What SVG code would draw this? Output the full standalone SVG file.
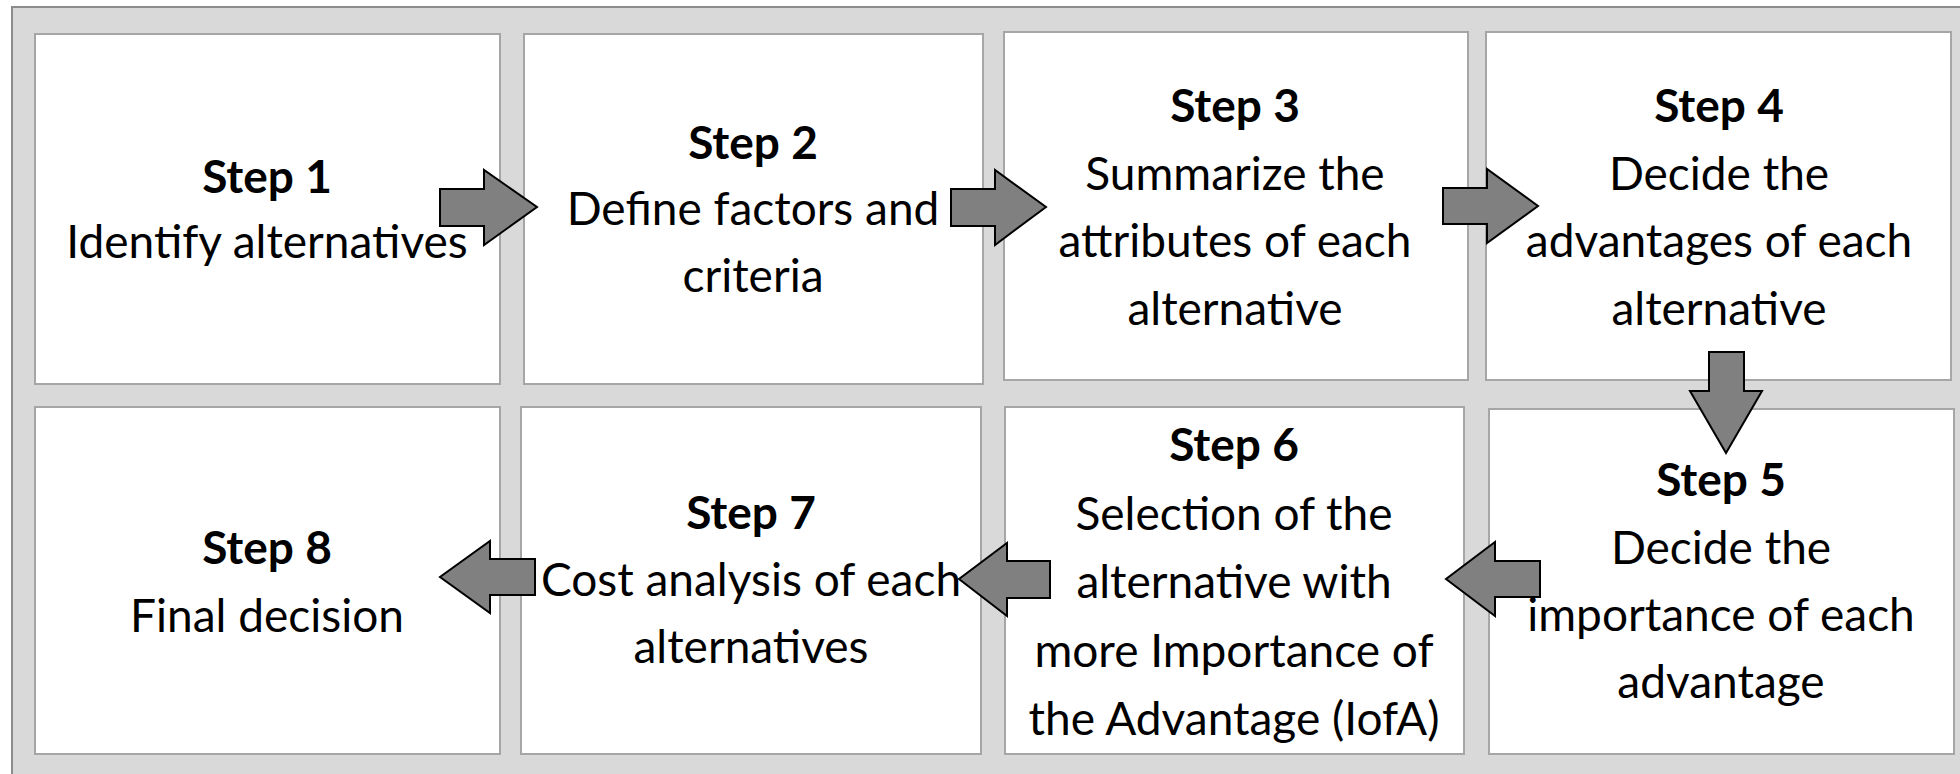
<svg xmlns="http://www.w3.org/2000/svg" width="1960" height="774" viewBox="0 0 1960 774">
<style>
.box{fill:#ffffff;stroke:#a6a6a6;stroke-width:2}
.t{font-family:Lato,"Open Sans","Liberation Sans",sans-serif;font-size:46px;fill:#000;text-anchor:middle}
.b{font-weight:bold}
.arr{fill:#808080;stroke:#000;stroke-width:2;stroke-linejoin:miter}
</style>
<rect x="12" y="7" width="1960" height="790" fill="#d9d9d9" stroke="#8c8c8c" stroke-width="2"/>
<g id="step1"><rect class="box" x="35" y="34" width="465" height="350"/>
<text class="t b" x="267" y="193">Step 1</text>
<text class="t" x="267" y="258">Identify alternatives</text></g>
<g id="step2"><rect class="box" x="524" y="34" width="459" height="350"/>
<text class="t b" x="753" y="159">Step 2</text>
<text class="t" x="753" y="225">Define factors and</text>
<text class="t" x="753" y="292">criteria</text></g>
<g id="step3"><rect class="box" x="1004" y="32" width="464" height="348"/>
<text class="t b" x="1235" y="122">Step 3</text>
<text class="t" x="1235" y="190">Summarize the</text>
<text class="t" x="1235" y="257">attributes of each</text>
<text class="t" x="1235" y="325">alternative</text></g>
<g id="step4"><rect class="box" x="1486" y="32" width="465" height="348"/>
<text class="t b" x="1719" y="122">Step 4</text>
<text class="t" x="1719" y="190">Decide the</text>
<text class="t" x="1719" y="257">advantages of each</text>
<text class="t" x="1719" y="325">alternative</text></g>
<g id="step5"><rect class="box" x="1489" y="409" width="465" height="345"/>
<text class="t b" x="1721" y="496">Step 5</text>
<text class="t" x="1721" y="564">Decide the</text>
<text class="t" x="1721" y="631">importance of each</text>
<text class="t" x="1721" y="698">advantage</text></g>
<g id="step6"><rect class="box" x="1005" y="407" width="459" height="347"/>
<text class="t b" x="1234" y="461">Step 6</text>
<text class="t" x="1234" y="530">Selection of the</text>
<text class="t" x="1234" y="598">alternative with</text>
<text class="t" x="1234" y="667">more Importance of</text>
<text class="t" x="1234" y="735">the Advantage (IofA)</text></g>
<g id="step7"><rect class="box" x="521" y="407" width="460" height="347"/>
<text class="t b" x="751" y="529">Step 7</text>
<text class="t" x="751" y="596">Cost analysis of each</text>
<text class="t" x="751" y="663">alternatives</text></g>
<g id="step8"><rect class="box" x="35" y="407" width="465" height="347"/>
<text class="t b" x="267" y="564">Step 8</text>
<text class="t" x="267" y="632">Final decision</text></g>
<g id="connectors">
<polygon class="arr" points="440,189 484,189 484,170 537,207 484,245 484,226 440,226"/>
<polygon class="arr" points="951,189 995,189 995,170 1046,207 995,245 995,226 951,226"/>
<polygon class="arr" points="1443,188 1487,188 1487,169 1538,206 1487,243 1487,224 1443,224"/>
<polygon class="arr" points="1709,352 1744,352 1744,391 1762,391 1726,453 1690,391 1709,391"/>
<polygon class="arr" points="1540,561 1495,561 1495,542 1446,579 1495,616 1495,597 1540,597"/>
<polygon class="arr" points="1050,561 1007,561 1007,543 959,579 1007,616 1007,598 1050,598"/>
<polygon class="arr" points="535,559 490,559 490,541 440,577 490,613 490,595 535,595"/>
</g>
</svg>
